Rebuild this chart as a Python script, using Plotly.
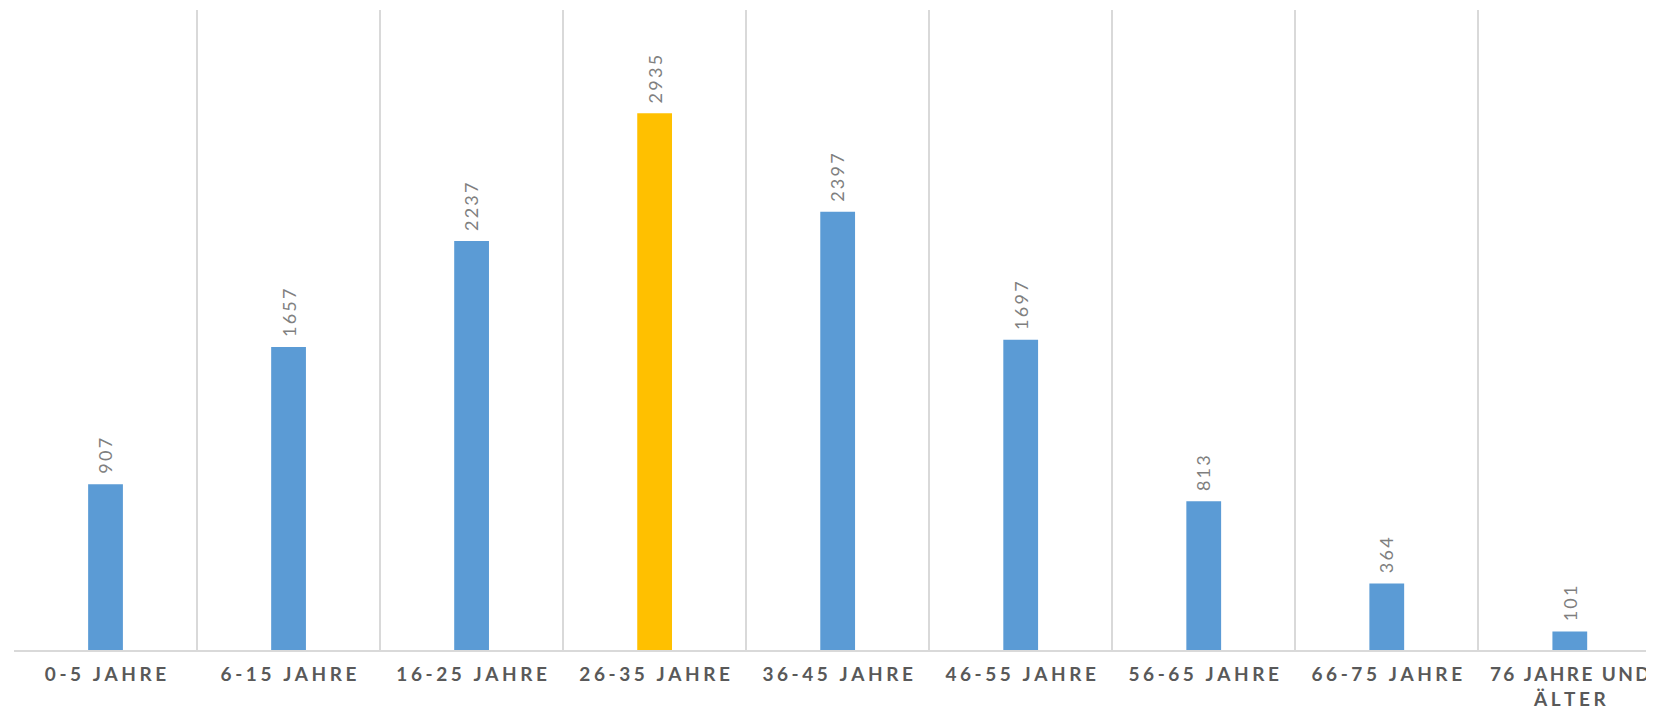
import plotly.graph_objects as go

categories = ["0-5 Jahre", "6-15 Jahre", "16-25 Jahre", "26-35 Jahre", "36-45 Jahre",
              "46-55 Jahre", "56-65 Jahre", "66-75 Jahre", "76 Jahre und älter"]
values = [907, 1657, 2237, 2935, 2397, 1697, 813, 364, 101]
highlight = "26-35 Jahre"

BLUE = "#5B9BD5"
ORANGE = "#FFC000"
THIN = "\u2009"
GAP = "\u2009\u200a"


def spaced(label):
    up = label.upper()
    if up.startswith("76"):
        first, second = "76 JAHRE UND", "ÄLTER"
        return THIN.join(first) + "<br>" + GAP.join(second)
    return GAP.join(up)


tick_text = [spaced(c) for c in categories]
colors = [ORANGE if c == highlight else BLUE for c in categories]

fig = go.Figure()
fig.add_trace(go.Bar(
    x=categories, y=values, marker=dict(color=colors, line=dict(width=0)),
    hoverinfo="x+y",
))

for c, v in zip(categories, values):
    fig.add_annotation(
        x=c, y=v, text=THIN.join(str(v)), showarrow=False, textangle=-90,
        xanchor="center", yanchor="bottom", yshift=8,
        font=dict(family="Lato, Carlito, sans-serif", size=18, color="#7F7F7F"),
    )

fig.update_layout(
    width=1646, height=703,
    margin=dict(l=6, r=0, t=2, b=61),
    paper_bgcolor="white", plot_bgcolor="white",
    bargap=0.81, showlegend=False,
    xaxis=dict(
        type="category", range=[-0.5, 8.46], tickson="boundaries",
        tickvals=categories, ticktext=tick_text,
        showgrid=True, gridcolor="#D9D9D9", gridwidth=2,
        showline=True, linecolor="#D9D9D9", linewidth=2,
        ticks="", ticklabelstandoff=6, automargin=False,
        tickfont=dict(family="Lato, Carlito, sans-serif", size=19, color="#595959", weight="bold"),
        fixedrange=True,
    ),
    yaxis=dict(range=[0, 3500], visible=False, showgrid=False, zeroline=False, fixedrange=True),
)

fig.write_html("out.html")
